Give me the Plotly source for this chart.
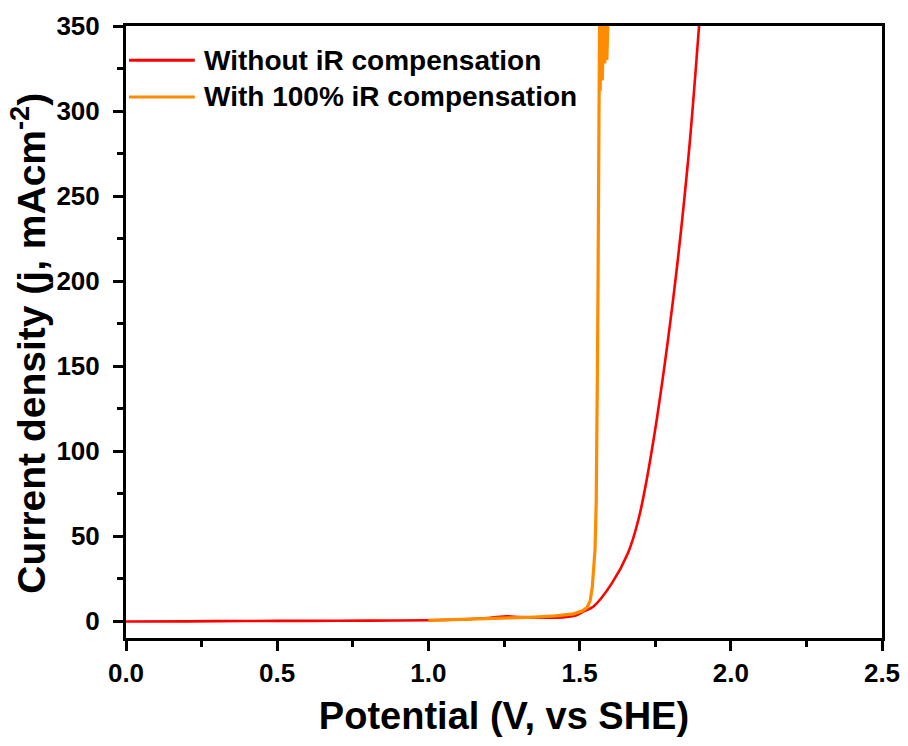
import plotly.graph_objects as go

# Polarization curve without iR compensation
v_raw = [0.0, 0.2, 0.4, 0.6, 0.8, 1.0, 1.1, 1.2, 1.26, 1.3, 1.35, 1.4, 1.45, 1.49,
         1.512, 1.545, 1.606, 1.66, 1.695, 1.739, 1.809, 1.862, 1.895]
j_raw = [-0.3, -0.2, 0.0, 0.1, 0.2, 0.4, 0.9, 1.8, 2.8, 2.3, 2.0, 2.0, 2.3, 3.4,
         5.5, 8.4, 22.0, 40.0, 60.0, 100.6, 188.8, 277.0, 350.0]

# Polarization curve with 100% iR compensation
v_comp = [1.0, 1.1, 1.2, 1.27, 1.35, 1.42, 1.48, 1.51, 1.525, 1.535, 1.542, 1.546,
          1.551, 1.555, 1.557, 1.559, 1.561, 1.563, 1.564, 1.566, 1.568, 1.572,
          1.575, 1.580, 1.583, 1.588, 1.590, 1.594]
j_comp = [0.4, 0.8, 1.3, 1.8, 2.3, 3.0, 4.2, 6.0, 8.0, 12.0, 20.0, 30.0, 42.0,
          70.0, 100.0, 150.0, 200.0, 250.0, 300.0, 355.0, 312.0, 355.0, 318.0,
          355.0, 328.0, 355.0, 330.0, 355.0]

series_names = ["Without iR compensation", "With 100% iR compensation"]
series_colors = ["#FF0000", "#FF8C00"]

x_ticks = [0.0, 0.5, 1.0, 1.5, 2.0, 2.5]
x_ticklabels = ["0.0", "0.5", "1.0", "1.5", "2.0", "2.5"]
y_ticks = [0, 50, 100, 150, 200, 250, 300, 350]
y_ticklabels = ["0", "50", "100", "150", "200", "250", "300", "350"]

x_title = "Potential (V, vs SHE)"
y_title = "Current density (j, mAcm<sup>-2</sup>)"

FONT = "Liberation Sans, Arial, sans-serif"

fig = go.Figure()
fig.add_trace(go.Scatter(x=v_raw, y=j_raw, mode="lines", name=series_names[0],
                         line=dict(color=series_colors[0], width=2.6,
                                   shape="spline", smoothing=0.8),
                         showlegend=False))
fig.add_trace(go.Scatter(x=v_comp, y=j_comp, mode="lines", name=series_names[1],
                         line=dict(color=series_colors[1], width=3.2),
                         showlegend=False))

# Legend drawn by hand so the sample lines are long, as in Origin
legend_y = [0.944, 0.884]
for name, color, ly in zip(series_names, series_colors, legend_y):
    fig.add_shape(type="line", xref="paper", yref="paper",
                  x0=0.004, x1=0.091, y0=ly, y1=ly,
                  line=dict(color=color, width=3))
    fig.add_annotation(xref="paper", yref="paper", x=0.100, y=ly,
                       xanchor="left", yanchor="middle", showarrow=False,
                       text=name,
                       font=dict(family=FONT, size=28, color="black", weight=700))

# Rotated y-axis title
fig.add_annotation(xref="paper", yref="paper", x=-0.13, y=0.482,
                   xanchor="center", yanchor="middle", showarrow=False,
                   textangle=-90, text=y_title,
                   font=dict(family=FONT, size=39, color="black", weight=700))

axis_common = dict(
    showline=True, linecolor="black", linewidth=3, mirror=True,
    ticks="outside", ticklen=10, tickwidth=3, tickcolor="black",
    showgrid=False, zeroline=False, automargin=False,
    tickfont=dict(family=FONT, size=26, color="black", weight=700),
)

fig.update_xaxes(
    range=[0, 2.5], tickvals=x_ticks, ticktext=x_ticklabels,
    minor=dict(ticks="outside", ticklen=6, tickwidth=3, tickcolor="black",
               dtick=0.25, showgrid=False),
    ticklabelstandoff=0,
    title=dict(text=x_title, standoff=16,
               font=dict(family=FONT, size=38, color="black", weight=700)),
    **axis_common,
)
fig.update_yaxes(
    range=[-10, 350], tickvals=y_ticks, ticktext=y_ticklabels,
    minor=dict(ticks="outside", ticklen=6, tickwidth=3, tickcolor="black",
               dtick=25, tick0=0, showgrid=False),
    ticklabelstandoff=8,
    **axis_common,
)

fig.update_layout(
    width=908, height=746,
    margin=dict(l=126, r=26, t=26, b=108),
    plot_bgcolor="white", paper_bgcolor="white",
)

fig.write_html("out.html")
